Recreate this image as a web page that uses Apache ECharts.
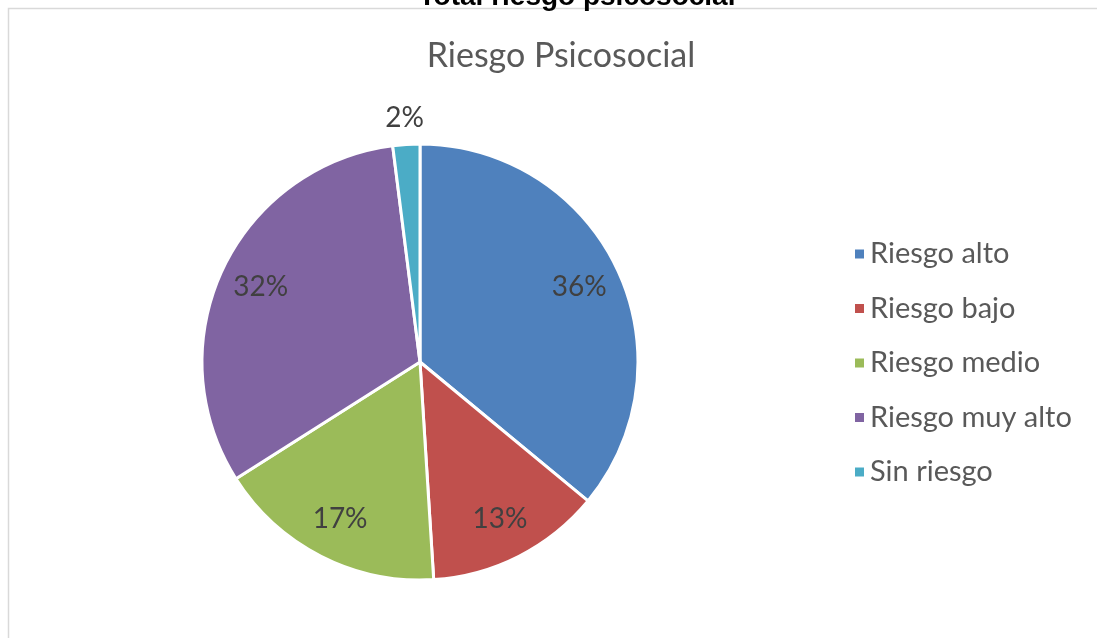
<!DOCTYPE html>
<html>
<head>
<meta charset="utf-8">
<script src="https://cdn.jsdelivr.net/npm/echarts@6/dist/echarts.min.js"></script>
<style>
  html, body { margin: 0; padding: 0; background: #ffffff; }
  #chart { width: 1097px; height: 638px; }
</style>
</head>
<body>
<div id="chart"></div>
<script>
// Distribution of psychosocial risk levels (percent of respondents)
const categories = ['Riesgo alto', 'Riesgo bajo', 'Riesgo medio', 'Riesgo muy alto', 'Sin riesgo'];
const values = [36, 13, 17, 32, 2];
const colors = ['#4F81BD', '#C0504D', '#9BBB59', '#8064A2', '#4BACC6'];
// Small slices get their label placed outside the pie
const outsideLabel = [false, false, false, false, true];

const FONT = 'Lato, "Open Sans", sans-serif';

const pieData = categories.map((name, i) => ({
  name, value: values[i], itemStyle: { color: colors[i] }
}));

// Transparent twin of the pie used only to position the percentage labels
function labelRing(radius, showOutside) {
  return {
    type: 'pie',
    silent: true,
    center: [420, 362],
    radius: [0, radius],
    startAngle: 90,
    clockwise: true,
    avoidLabelOverlap: false,
    itemStyle: { color: 'rgba(0,0,0,0)' },
    emphasis: { disabled: true },
    labelLine: { show: false },
    data: categories.map((name, i) => ({
      name, value: values[i],
      label: {
        show: outsideLabel[i] === showOutside,
        position: 'inside',
        formatter: p => Math.round(p.percent) + '%',
        color: '#404040',
        fontSize: 28,
        fontFamily: FONT
      }
    }))
  };
}

const chart = echarts.init(document.getElementById('chart'), null, { renderer: 'canvas' });
chart.setOption({
  animation: false,
  backgroundColor: '#ffffff',
  title: {
    text: 'Riesgo Psicosocial',
    left: 556,
    top: 34,
    textAlign: 'center',
    textStyle: { color: '#595959', fontSize: 34, fontWeight: 'normal', fontFamily: FONT }
  },
  legend: {
    orient: 'vertical',
    left: 848,
    top: 234,
    icon: 'rect',
    itemWidth: 11,
    itemHeight: 11,
    itemGap: 24.5,
    itemTextGap: 9,
    data: categories,
    textStyle: { color: '#595959', fontSize: 29, lineHeight: 30, fontFamily: FONT }
  },
  graphic: [
    {
      type: 'rect',
      silent: true,
      shape: { x: 8.5, y: 8.5, width: 1200, height: 700 },
      style: { fill: 'none', stroke: '#d9d9d9', lineWidth: 1.5 }
    },
    {
      type: 'text',
      silent: true,
      x: 577,
      y: 11,
      style: {
        text: 'Total riesgo psicosocial',
        fill: '#000000',
        font: 'bold 28px "Liberation Sans", Arial, sans-serif',
        align: 'center',
        verticalAlign: 'bottom'
      }
    }
  ],
  series: [
    {
      type: 'pie',
      center: [420, 362],
      radius: [0, 218],
      startAngle: 90,
      clockwise: true,
      avoidLabelOverlap: false,
      label: { show: false },
      labelLine: { show: false },
      itemStyle: { borderColor: '#ffffff', borderWidth: 3 },
      emphasis: { scale: false },
      data: pieData
    },
    labelRing(346, false),
    labelRing(484, true)
  ]
});
</script>
</body>
</html>
